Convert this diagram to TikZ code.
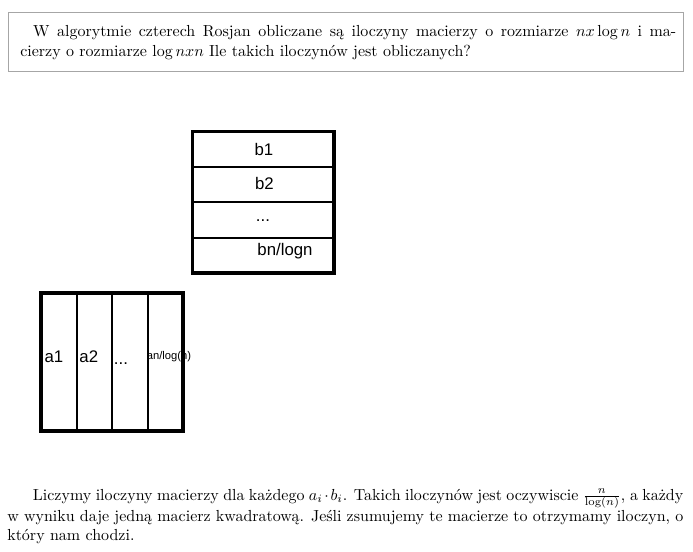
\documentclass[tikz,border=0pt]{standalone}
\usepackage{fontspec}
\newfontfamily\arialfont{Liberation Sans}
\usepackage{tikz}
\usetikzlibrary{positioning}
\tikzset{
    frame/.style={draw, line width=2.2pt},
    brow/.style={draw, line width=1.25pt, inner sep=0pt, outer sep=0pt, minimum width=88.3pt, minimum height=22.06pt},
    acol/.style={draw, line width=1.25pt, inner sep=0pt, outer sep=0pt, minimum width=22.2pt, minimum height=86.25pt},
    lbl/.style={inner sep=0pt, anchor=base, font=\arialfont\fontsize{10.5pt}{12pt}\selectfont},
    para/.style={inner sep=0pt, anchor=base west, align=justify}
}

\begin{document}
\begin{tikzpicture}[x=0.625pt,y=-0.625pt]
            \useasboundingbox (0,0) rectangle (693,552);

            % pytanie w ramce
            \draw[gray!70, line width=0.6pt] (8,12.5) rectangle (683.5,71);
            \node (quest) [para, text width=410pt] at (20,37)
                {\hspace*{8pt}W algorytmie czterech Rosjan obliczane są iloczyny macierzy o rozmiarze $nx\log n$ i ma-\linebreak
                cierzy o rozmiarze $\log nxn$ Ile takich iloczynów jest obliczanych?};

            % macierz b
            \node (b1) [brow] at (263.35,149.35) {};
            \node (b2) [brow, below=0pt of b1] {};
            \node (b3) [brow, below=0pt of b2] {};
            \node (bn) [brow, below=0pt of b3] {};
            \draw[frame] (b1.north west) rectangle (bn.south east);
            \node (tb1) [lbl] at (264,156) {b1};
            \node (tb2) [lbl] at (264.5,190) {b2};
            \node (tb3) [lbl] at (263,222) {...};
            \node (tbn) [lbl] at (285,256) {bn/logn};

            % macierz a
            \node (a1) [acol] at (58.75,362) {};
            \node (a2) [acol, right=0pt of a1] {};
            \node (a3) [acol, right=0pt of a2] {};
            \node (an) [acol, right=0pt of a3] {};
            \draw[frame] (a1.north west) rectangle (an.south east);
            \node (ta1) [lbl] at (54,362) {a1};
            \node (ta2) [lbl] at (88.8,362) {a2};
            \node (ta3) [lbl] at (121,364) {...};
            \node (tan) [lbl, font=\arialfont\fontsize{7pt}{8pt}\selectfont] at (169,359) {an/log(n)};

            % wyjasnienie
            \node (expl) [para, text width=422.5pt] at (7,500)
                {\hspace*{16pt}Liczymy iloczyny macierzy dla każdego $a_i\cdot b_i$. Takich iloczynów jest oczywiscie $\frac{n}{\log(n)}$, a każdy\linebreak
                w wyniku daje jedną macierz kwadratową. Jeśli zsumujemy te macierze to otrzymamy iloczyn, o\linebreak
                który nam chodzi.};
\end{tikzpicture}
\end{document}
